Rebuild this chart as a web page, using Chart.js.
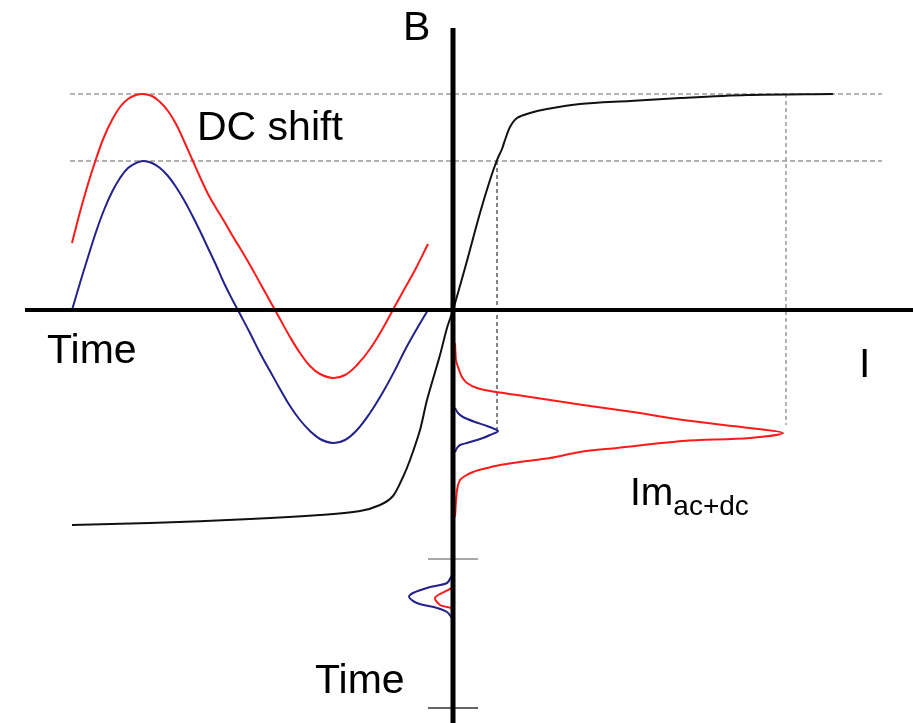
<!DOCTYPE html>
<html>
<head>
<meta charset="utf-8">
<script src="https://cdn.jsdelivr.net/npm/chart.js@4/dist/chart.umd.min.js"></script>
<style>
html,body{margin:0;padding:0;background:#fff;}
canvas{display:block;}
</style>
</head>
<body>
<canvas id="c" width="913" height="723"></canvas>
<script>
// ---- Time-domain waveforms (left quadrant): time vs B ----
const timeValues = [-3.81,-3.73,-3.65,-3.57,-3.49,-3.41,-3.33,-3.25,-3.17,-3.10,-3.01,-2.93,-2.85,-2.77,-2.69,-2.61,-2.53,-2.45,-2.37,-2.29,-2.21,-2.13,-2.03,-1.93,-1.83,-1.73,-1.63,-1.53,-1.43,-1.33,-1.20,-1.08,-0.96,-0.83,-0.70,-0.58,-0.48,-0.38,-0.25];
const acB = [0,0.27,0.53,0.78,1.00,1.18,1.32,1.42,1.47,1.49,1.47,1.42,1.34,1.23,1.10,0.95,0.79,0.62,0.45,0.27,0.11,-0.04,-0.23,-0.43,-0.61,-0.79,-0.96,-1.10,-1.21,-1.29,-1.33,-1.30,-1.20,-1.03,-0.82,-0.60,-0.40,-0.22,0];
const acdcB = [0.67,0.98,1.26,1.51,1.73,1.90,2.03,2.11,2.15,2.16,2.14,2.08,1.99,1.86,1.69,1.51,1.33,1.16,1.02,0.89,0.75,0.62,0.45,0.27,0.09,-0.09,-0.27,-0.43,-0.56,-0.64,-0.68,-0.65,-0.55,-0.39,-0.18,0.04,0.22,0.40,0.66];

// ---- Magnetisation curve: I vs B ----
const curveI = [-3.81,-3.03,-2.03,-1.33,-0.93,-0.73,-0.60,-0.50,-0.43,-0.33,-0.26,-0.13,-0.06,0,0.12,0.27,0.37,0.44,0.49,0.52,0.57,0.64,0.77,0.94,1.27,1.77,2.27,2.94,3.80];
const curveB = [-2.15,-2.13,-2.09,-2.05,-2.01,-1.95,-1.86,-1.67,-1.50,-1.20,-0.90,-0.45,-0.18,0,0.42,0.97,1.30,1.50,1.61,1.70,1.83,1.92,1.97,2.01,2.06,2.09,2.12,2.15,2.16];

// ---- Magnetising current pulses (time runs downward) ----
const imAcdcI = [0.02,0.03,0.05,0.09,0.14,0.24,0.37,0.64,0.97,1.30,1.80,2.30,2.97,3.30,2.97,2.30,1.64,1.27,0.97,0.67,0.47,0.30,0.20,0.12,0.07,0.04,0.02];
const imAcdcT = [-0.33,-0.50,-0.57,-0.67,-0.73,-0.78,-0.81,-0.85,-0.90,-0.95,-1.02,-1.10,-1.18,-1.23,-1.28,-1.31,-1.38,-1.42,-1.48,-1.52,-1.55,-1.59,-1.62,-1.66,-1.70,-1.80,-2.07];
const imAcI = [0.02,0.05,0.10,0.22,0.34,0.45,0.37,0.30,0.14,0.07,0.04,0.02];
const imAcT = [-0.98,-1.03,-1.07,-1.12,-1.16,-1.21,-1.25,-1.28,-1.33,-1.35,-1.38,-1.42];

// ---- Small pulses below ----
const smallAcI = [-0.01,-0.06,-0.23,-0.40,-0.44,-0.36,-0.16,-0.06,-0.01];
const smallAcT = [-2.65,-2.73,-2.77,-2.83,-2.87,-2.93,-2.98,-3.02,-3.08];
const smallDcI = [-0.01,-0.11,-0.18,-0.13,-0.01];
const smallDcT = [-2.78,-2.83,-2.88,-2.95,-2.98];

// ---- Reference levels ----
const peakLevels = [2.16, 1.49];          // B of ac+dc peak and ac peak
const levelSpan = [-3.83, 4.29];          // I/time extent of the level lines
const peakCurrents = [0.44, 3.33];        // Im peaks
const peakCurrentTop = [1.49, 2.16];
const peakCurrentBottom = [-1.20, -1.15];
const timeTicks = [-2.49, -3.98];
const tickHalf = 0.25;
const axisB = [2.82, -4.13];
const axisI = [-4.28, 4.60];

// ---- Labels ----
const labels = [
  {text:'B', x:-0.50, y:2.70},
  {text:'DC shift', x:-2.56, y:1.70},
  {text:'Time', x:-4.06, y:-0.53},
  {text:'I', x:4.06, y:-0.67},
  {text:'Time', x:-1.38, y:-3.83}
];
const imLabel = {main:'Im', sub:'ac+dc', x:1.77, y:-1.95};

const pts = (xs, ys) => xs.map((x,i)=>({x:x, y:ys[i]}));
const line = (data, color, width, extra) => Object.assign({
  data, showLine:true, borderColor:color, backgroundColor:color, borderWidth:width,
  pointRadius:0, pointHoverRadius:0, fill:false, tension:0
}, extra||{});

const datasets = [
  // axes (first = drawn on top)
  line([{x:0,y:axisB[0]},{x:0,y:axisB[1]}], '#000', 5),
  line([{x:axisI[0],y:0},{x:axisI[1],y:0}], '#000', 4),
  // ticks on time axis
  line([{x:-tickHalf,y:timeTicks[0]},{x:tickHalf,y:timeTicks[0]}], '#a8a8a8', 2),
  line([{x:-tickHalf,y:timeTicks[1]},{x:tickHalf,y:timeTicks[1]}], '#333', 1.5),
  // curves
  line(pts(curveI, curveB), '#111', 2, {tension:0.3}),
  line(pts(timeValues, acdcB), '#ff1a1a', 2, {tension:0.4}),
  line(pts(timeValues, acB), '#22228a', 2, {tension:0.4}),
  line(pts(imAcdcI, imAcdcT), '#ff1a1a', 2, {tension:0.3}),
  line(pts(imAcI, imAcT), '#22228a', 2, {tension:0.3}),
  line(pts(smallDcI, smallDcT), '#ff1a1a', 2, {tension:0.3}),
  line(pts(smallAcI, smallAcT), '#22228a', 2, {tension:0.3}),
  // reference dashed lines (last = behind)
  line([{x:peakCurrents[0],y:peakCurrentTop[0]},{x:peakCurrents[0],y:peakCurrentBottom[0]}], '#444', 1.3, {borderDash:[4,3]}),
  line([{x:peakCurrents[1],y:peakCurrentTop[1]},{x:peakCurrents[1],y:peakCurrentBottom[1]}], '#999', 1.5, {borderDash:[4,3]}),
  line([{x:levelSpan[0],y:peakLevels[0]},{x:levelSpan[1],y:peakLevels[0]}], '#9a9a9a', 1.5, {borderDash:[5,3]}),
  line([{x:levelSpan[0],y:peakLevels[1]},{x:levelSpan[1],y:peakLevels[1]}], '#9a9a9a', 1.5, {borderDash:[5,3]})
];

const labelPlugin = {
  id:'labels',
  afterDraw(chart){
    const ctx = chart.ctx, xs = chart.scales.x, ys = chart.scales.y;
    ctx.save();
    ctx.fillStyle = '#000';
    ctx.textBaseline = 'alphabetic';
    ctx.textAlign = 'left';
    ctx.font = '41px "Liberation Sans", Arial, sans-serif';
    labels.forEach(l => ctx.fillText(l.text, xs.getPixelForValue(l.x), ys.getPixelForValue(l.y)));
    const px = xs.getPixelForValue(imLabel.x), py = ys.getPixelForValue(imLabel.y);
    ctx.font = '39px "Liberation Sans", Arial, sans-serif';
    ctx.fillText(imLabel.main, px, py);
    const w = ctx.measureText(imLabel.main).width;
    ctx.font = '28px "Liberation Sans", Arial, sans-serif';
    ctx.fillText(imLabel.sub, px + w, py + 10);
    ctx.restore();
  }
};

new Chart(document.getElementById('c'), {
  type:'scatter',
  data:{datasets},
  options:{
    responsive:false,
    devicePixelRatio:1,
    animation:false,
    layout:{padding:0},
    plugins:{legend:{display:false}, tooltip:{enabled:false}},
    events:[],
    scales:{
      x:{type:'linear', min:-4.53, max:4.60, display:false},
      y:{type:'linear', min:-4.13, max:3.10, display:false}
    }
  },
  plugins:[labelPlugin]
});
</script>
</body>
</html>
